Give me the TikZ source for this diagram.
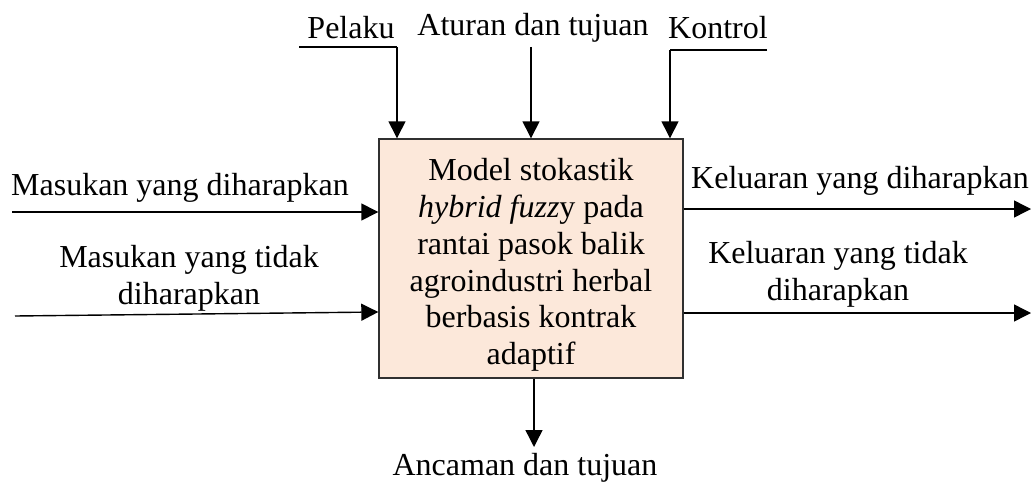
\documentclass[tikz,border=0pt]{standalone}
\usepackage{fontspec}
\setmainfont{Liberation Serif}
\usetikzlibrary{arrows.meta}
\definecolor{boxfill}{HTML}{FCE8DA}
\definecolor{boxline}{HTML}{303030}
\begin{document}
\begin{tikzpicture}[x=1pt,y=-1pt,
  lbl/.style={inner sep=0pt,align=center,font=\fontsize{32}{36.8}\selectfont},
  flow/.style={line width=1.4pt,-{Triangle[length=17pt 0 1,width=17pt 0 1]}},
  wire/.style={line width=1.4pt}]
\useasboundingbox (0,0) rectangle (1032,484);
% central process box
\node[draw=boxline,line width=1.4pt,fill=boxfill,minimum width=304pt,minimum height=239pt,inner sep=0pt] (box) at (531,258.5) {};
\node[lbl] (boxtxt) at (531,265) {Model stokastik\\\textit{hybrid fuzz}y pada\\rantai pasok balik\\agroindustri herbal\\berbasis kontrak\\adaptif};
% top labels and arrows
\node[lbl] (pelaku) at (351,28) {Pelaku};
\node[lbl] (aturan) at (533,28) {Aturan dan tujuan};
\node[lbl] (kontrol) at (718,28) {Kontrol};
\coordinate (p0) at (299,47);
\coordinate (p1) at (397,47);
\coordinate (a0) at (531,47);
\coordinate (k0) at (767,50);
\coordinate (k1) at (670,50);
\draw[wire] (p0) -- (p1);
\draw[flow] (p1) -- (p1 |- box.north);
\draw[flow] (a0) -- (a0 |- box.north);
\draw[wire] (k0) -- (k1);
\draw[flow] (k1) -- (k1 |- box.north);
% inputs
\node[lbl] (min1) at (180,188) {Masukan yang diharapkan};
\node[lbl] (min2) at (189,278) {Masukan yang tidak\\diharapkan};
\coordinate (i1) at (12,212);
\coordinate (i2) at (15,316);
\draw[flow] (i1) -- (box.west |- i1);
\draw[flow] (i2) -- (box.west |- 0,312);
% outputs
\node[lbl] (kout1) at (860,181) {Keluaran yang diharapkan};
\node[lbl] (kout2) at (838,274) {Keluaran yang tidak\\diharapkan};
\coordinate (o1) at (1031,209);
\coordinate (o2) at (1031,313);
\draw[flow] (box.east |- o1) -- (o1);
\draw[flow] (box.east |- o2) -- (o2);
% bottom output
\node[lbl] (anc) at (525,468) {Ancaman dan tujuan};
\coordinate (b1) at (534,447);
\draw[flow] (box.south -| b1) -- (b1);
\end{tikzpicture}
\end{document}
